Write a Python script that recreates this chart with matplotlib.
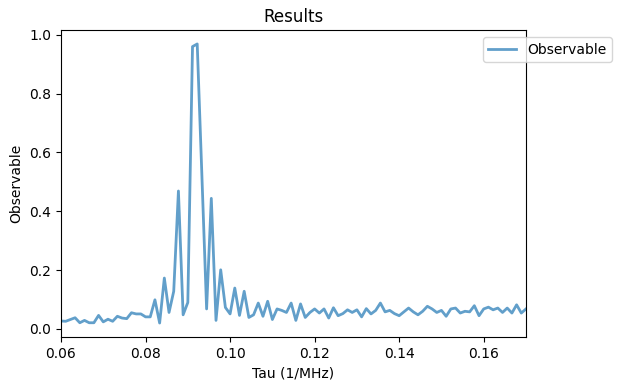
import numpy as np
import matplotlib
matplotlib.use("Agg")
import matplotlib.pyplot as plt

# Tau grid (1/MHz), 100 points from 0.06 to 0.17
tau = np.linspace(0.06, 0.17, 100)

observable = [
    0.027, 0.026, 0.032, 0.038, 0.021, 0.029, 0.021, 0.021, 0.046, 0.024,
    0.033, 0.026, 0.043, 0.037, 0.035, 0.055, 0.051, 0.051, 0.041, 0.041,
    0.099, 0.020, 0.173, 0.056, 0.128, 0.469, 0.048, 0.090, 0.960, 0.969,
    0.520, 0.068, 0.444, 0.029, 0.201, 0.073, 0.051, 0.139, 0.046, 0.128,
    0.039, 0.048, 0.088, 0.043, 0.094, 0.032, 0.068, 0.063, 0.056, 0.088,
    0.029, 0.085, 0.039, 0.056, 0.068, 0.054, 0.068, 0.037, 0.072, 0.045,
    0.052, 0.065, 0.056, 0.065, 0.041, 0.069, 0.051, 0.063, 0.088, 0.058,
    0.063, 0.052, 0.045, 0.058, 0.071, 0.058, 0.048, 0.060, 0.077, 0.068,
    0.056, 0.063, 0.043, 0.068, 0.071, 0.054, 0.060, 0.058, 0.079, 0.045,
    0.068, 0.074, 0.065, 0.071, 0.056, 0.071, 0.054, 0.082, 0.054, 0.068,
]

fig = plt.figure(figsize=(6.22, 3.91), dpi=100)
ax = fig.add_axes([61 / 622, 1 - 337 / 391, 465 / 622, 307 / 391])

ax.plot(tau, observable, color="C0", alpha=0.7, linewidth=2, label="Observable")
ax.set_xlim(0.06, 0.17)
ax.set_title("Results")
ax.set_xlabel("Tau (1/MHz)")
ax.set_ylabel("Observable")
ax.legend(loc="upper right", bbox_to_anchor=(1.2, 1))

fig.savefig("out.png", dpi=100)
